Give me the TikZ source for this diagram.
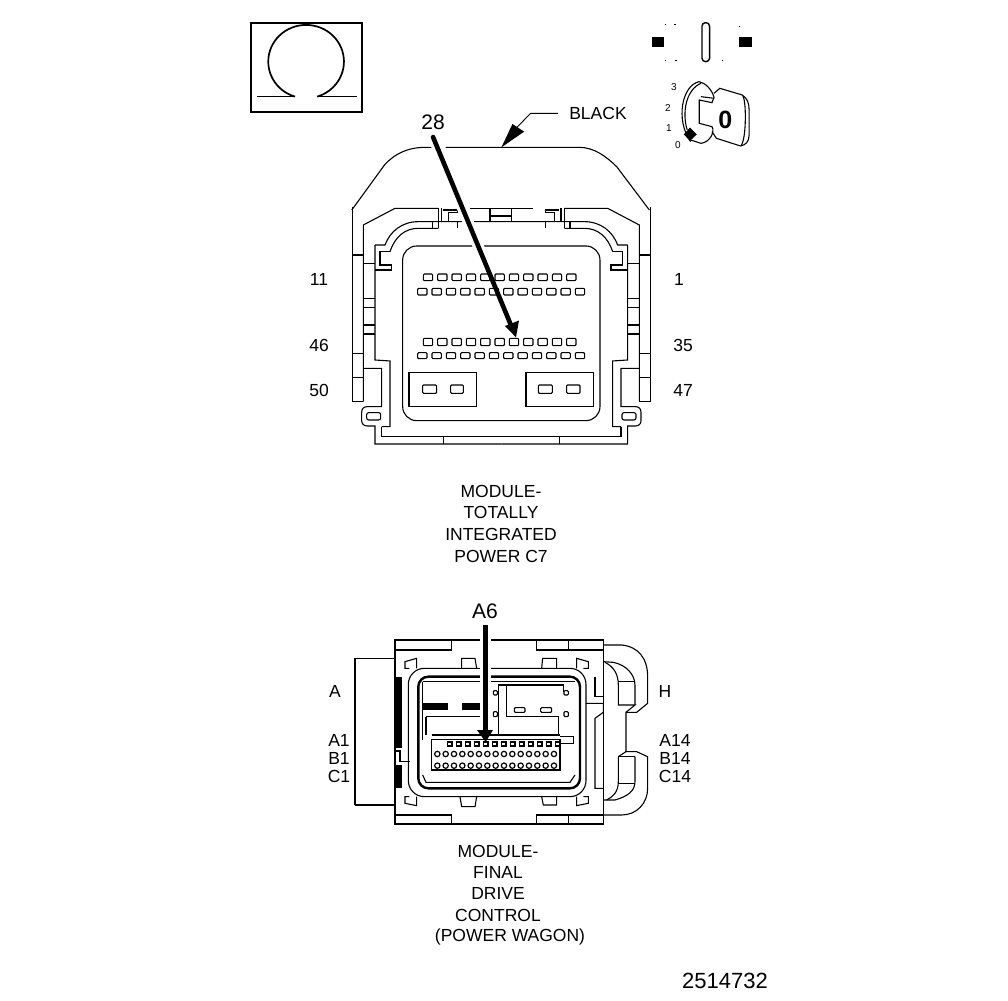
\documentclass[tikz,border=0pt]{standalone}
\usepackage{fontspec}
\setmainfont{Liberation Sans}
\tikzset{
  wire/.style={line width=1.1pt,black,line join=miter},
  lab/.style={font=\fontsize{17.5}{20}\selectfont,inner sep=0pt,black},
  biglab/.style={font=\fontsize{21}{24}\selectfont,inner sep=0pt,black},
  keylab/.style={font=\fontsize{10}{12}\selectfont,inner sep=0pt,black},
  fat/.style={line width=4.6pt,black},
  halo/.style={line width=11pt,white},
  pinbox/.style={line width=1.1pt,black,rounded corners=1pt}
}
\newcommand{\halfshell}{%
  \draw[wire] (37,52)--(37,635)--(70,635);
  \draw[wire] (484,55)--(390,55);
  \draw[wire] (295,55)--(165,55)--(70,105)--(70,635);
  \draw[wire] (37,195)--(70,195) (37,490)--(70,490) (37,562)--(70,562);
  \draw[wire] (105,165)--(105,510)--(150,513)--(150,710)--(125,710);
  \draw[wire] (105,165)--(135,165) .. controls (150,125) and (185,95) .. (235,95)--(484,95);
  \draw[wire] (150,185) .. controls (165,140) and (195,115) .. (235,115)--(295,115);
  \draw[wire] (150,185)--(120,185)--(120,225)--(155,225)--(155,240)--(105,240);
  \draw[wire] (70,220)--(105,220) (70,325)--(105,325) (70,352)--(105,352) (70,405)--(105,405) (70,432)--(105,432);
  \draw[wire] (70,535)--(125,535)--(125,650)--(82,650) .. controls (70,650) and (65,657) .. (65,668)--(65,692) .. controls (65,702) and (72,708) .. (82,708)--(105,708)--(105,762)--(484,762);
  \draw[wire] (125,710)--(125,740)--(484,740);
  \draw[wire] (310,740)--(310,762);
  \draw[wire,rounded corners=2pt] (80,668) rectangle (122,690);
  \draw[wire] (295,55)--(295,115) (278,95)--(278,115);
  \draw[wire] (305,55)--(305,95) (352,95)--(352,115);
  \draw[wire] (310,60)--(352,60)--(352,68)--(325,68)--(325,95);
}
\newcommand{\pinrow}[4]{%
  \foreach \n in {1,...,#2}{
    \pgfmathsetmacro{\xa}{#1+(\n-1)*43}
    \pgfmathsetmacro{\xb}{\xa+28}
    \draw[pinbox] (\xa,#3) rectangle (\xb,#4);
  }
}
\begin{document}
\begin{tikzpicture}[x=1pt,y=-1pt]
\useasboundingbox (0,0) rectangle (1008,1000);
\fill[white] (0,0) rectangle (1008,1000);

\begin{scope}[shift={(240,10)},x=0.344pt,y=-0.3333pt]
  \draw[line width=2pt] (32,40) rectangle (355,305);
  \draw[line width=1.7pt] (160,260) arc (107:433:110);
  \draw[line width=1.2pt] (50,260)--(160,260) (225,260)--(340,260);
  \fill (1197,80) rectangle (1233,110);
  \fill (1450,80) rectangle (1487,110);
  \draw[line width=1.4pt,rounded corners=3.5pt] (1343,38) rectangle (1365,155);
  \foreach \px/\py in {1235/42,1262/42,1235/150,1265/150,1400/150,1450/47}{
    \fill (\px,\py) rectangle ++(4,3);
  }
  \draw[wire] (1335,215) .. controls (1285,225) and (1265,330) .. (1310,395);
  \draw[wire] (1340,220) .. controls (1295,240) and (1285,310) .. (1300,360);
  \draw[wire] (1335,215) .. controls (1355,220) and (1372,240) .. (1378,262)--(1372,278)--(1335,270)--(1335,340)--(1372,350) .. controls (1382,365) and (1365,398) .. (1340,400)--(1310,390);
  \draw[wire] (1340,260)--(1378,265);
  \draw[wire] (1378,250)--(1395,235)--(1460,255) .. controls (1475,265) and (1480,280) .. (1480,300)--(1480,375) .. controls (1480,395) and (1470,405) .. (1455,408)--(1385,385)--(1372,365);
  \draw[wire] (1462,258) .. controls (1472,275) and (1472,380) .. (1458,405);
  \fill (1308,353)--(1328,373)--(1308,393)--(1290,373)--cycle;
  \node[font=\bfseries\fontsize{25}{28}\selectfont,inner sep=0pt] (keyzero) at (1411,329) {0};
  \node[keylab] (k3) at (1261,230) {3};
  \node[keylab] (k2) at (1244,294) {2};
  \node[keylab] (k1) at (1247,353) {1};
  \node[keylab] (k0) at (1273,405) {0};
  \draw[wire] (325,600) -- (420,465) .. controls (450,430) and (490,412) .. (540,412)--(558,412);
  \draw[wire] (598,412)--(985,412) .. controls (1030,412) and (1065,440) .. (1095,470)--(1190,600);
  \coordinate (blk) at (925,310);
  \coordinate (blkbend) at (845,310);
  \draw[wire,line width=0.9pt] (blk)--(blkbend)--(805,352);
  \fill (760,412)--(792,342)--(826,365)--cycle;
\end{scope}

\begin{scope}[shift={(340,190)},x=0.3333pt,y=-0.3333pt]
  \halfshell
  \begin{scope}[xscale=-1,xshift=-322.67pt]
    \halfshell
  \end{scope}
  \draw[wire] (450,55) rectangle (515,95) (450,78)--(515,78);
  \draw[wire,rounded corners=14pt] (188,692) rectangle (780,168);
  \pinrow{250}{11}{252}{272}
  \pinrow{233}{12}{295}{315}
  \pinrow{250}{11}{445}{467}
  \pinrow{233}{12}{488}{506}
  \draw[wire] (207,547) rectangle (410,650);
  \draw[wire] (558,547) rectangle (760,650);
  \draw[pinbox] (248,585) rectangle (290,610);
  \draw[pinbox] (332,585) rectangle (370,610);
  \draw[pinbox] (595,585) rectangle (637,610);
  \draw[pinbox] (680,585) rectangle (720,610);
  \coordinate (pin28) at (528,442);
\end{scope}
\coordinate (arrowstart) at (433,137);
\draw[halo,shorten >=85pt] (arrowstart)--(pin28);
\draw[fat,shorten >=9pt,line cap=round] (arrowstart)--(pin28);
\fill (pin28)--(505,326)--(519,320.5)--cycle;

\begin{scope}[shift={(350,625)},x=0.3333pt,y=-0.3333pt]
  \draw[wire] (135,45) rectangle (760,597);
  \draw[wire] (135,75)--(305,75)--(305,45) (135,570)--(305,570)--(305,597);
  \draw[wire] (560,45)--(560,75)--(760,75) (655,45)--(655,75);
  \draw[wire] (560,597)--(560,570)--(760,570) (655,570)--(655,597);
  \draw[wire] (15,100)--(135,100) (15,100)--(15,540) (15,540)--(135,540);
  \fill (135,155) rectangle (155,370);
  \fill (135,420) rectangle (155,490);
  \draw[wire] (135,378)--(150,378)--(150,410)--(180,410);
  \draw[wire,rounded corners=16pt] (175,130) rectangle (708,515);
  \draw[line width=2.4pt,rounded corners=10pt] (205,155) rectangle (690,490);
  \draw[wire] (218,170)--(675,170);
  \draw[wire] (218,170)--(218,235) (218,255)--(218,345);
  \draw[wire] (218,450)--(228,472)--(660,472)--(675,450);
  \draw[wire] (335,130)--(335,100)--(375,100)--(380,130) (575,130)--(578,100)--(620,100)--(620,130);
  \draw[wire] (330,515)--(335,545)--(375,545)--(380,515) (575,515)--(580,540)--(620,540)--(620,515);
  \draw[wire] (200,130)--(200,100)--(165,110)--(165,130)--(178,130);
  \draw[wire] (680,130)--(680,100)--(715,110)--(715,130)--(700,130);
  \draw[wire] (200,515)--(200,542)--(165,535)--(165,515)--(178,515);
  \draw[wire] (680,515)--(680,542)--(715,535)--(715,515)--(700,515);
  \draw[wire] (735,155)--(735,215)--(760,215);
  \draw[wire] (708,235)--(760,235)--(760,262)--(735,280)--(735,490)--(760,490);
  \draw[wire] (760,60)--(815,60) .. controls (865,65) and (893,100) .. (893,155)--(893,235)--(860,262)--(828,262)--(828,380)--(860,380)--(893,395)--(893,490) .. controls (893,535) and (860,570) .. (815,570)--(760,570);
  \draw[wire] (760,110)--(790,112) .. controls (830,120) and (855,150) .. (855,180)--(855,240);
  \draw[wire] (765,112) .. controls (790,125) and (805,145) .. (805,180)--(805,240)--(855,240)--(828,262);
  \draw[wire] (760,525)--(795,525) .. controls (830,515) and (855,500) .. (855,470)--(855,395);
  \draw[wire] (770,525) .. controls (790,515) and (805,500) .. (805,470)--(805,395)--(828,380);
  \draw[wire] (805,395)--(855,395) (805,170)--(855,170) (805,475)--(855,475);
  \fill (215,235) rectangle (295,255);
  \fill (335,235) rectangle (400,255);
  \draw[wire] (445,180)--(640,180)--(640,200);
  \draw[wire] (445,180)--(445,330);
  \draw[wire] (470,180)--(470,275)--(625,275)--(625,330);
  \draw[wire] (228,275)--(400,275) (228,275)--(228,330);
  \draw[pinbox] (430,197) rectangle (442,210);
  \draw[pinbox] (430,260) rectangle (442,275);
  \draw[pinbox] (642,197) rectangle (655,210);
  \draw[pinbox] (642,260) rectangle (655,275);
  \draw[pinbox] (493,248) rectangle (525,262);
  \draw[pinbox] (572,248) rectangle (605,262);
  \draw[wire] (245,330)--(630,330) (245,343)--(630,343);
  \draw[wire] (245,343)--(245,435)--(630,435)--(630,343);
  \draw[wire] (630,335)--(670,335)--(670,355)--(630,355);
  \foreach \n in {0,...,12}{
    \pgfmathsetmacro{\xa}{293+\n*27}
    \draw[line width=1.1pt] (\xa,351) rectangle ++(13,12);
  }
  \foreach \n in {0,...,14}{
    \pgfmathsetmacro{\xa}{262+\n*25}
    \draw[line width=1.2pt] (\xa,387) circle (8);
    \draw[line width=1.2pt] (\xa,422) circle (8);
  }
  \coordinate (pinA6) at (407,351);
  \coordinate (startA6) at (407,0);
\end{scope}
\draw[halo,shorten >=14pt] (startA6)--(pinA6);
\draw[fat,shorten >=8pt] (startA6)--(pinA6);
\fill (pinA6)--(477,730)--(493,730)--cycle;

\node[lab] (black) at (598,113) {BLACK};
\node[biglab] (n28) at (433,122) {28};
\node[lab] (n11) at (319,279) {11};
\node[lab] (n46) at (319,345) {46};
\node[lab] (n50) at (319,390) {50};
\node[lab] (n1) at (679,279) {1};
\node[lab] (n35) at (683,345) {35};
\node[lab] (n47) at (683,390) {47};
\node[lab] (c1a) at (501,491) {MODULE-};
\node[lab] (c1b) at (501,512) {TOTALLY};
\node[lab] (c1c) at (501,534) {INTEGRATED};
\node[lab] (c1d) at (501,556) {POWER C7};
\node[biglab] (a6) at (485,611) {A6};
\node[lab] (la) at (335,691) {A};
\node[lab] (la1) at (339,740) {A1};
\node[lab] (lb1) at (339,758) {B1};
\node[lab] (lc1) at (339,776) {C1};
\node[lab] (lh) at (665,691) {H};
\node[lab] (la14) at (675,740) {A14};
\node[lab] (lb14) at (675,758) {B14};
\node[lab] (lc14) at (675,776) {C14};
\node[lab] (c2a) at (498,851) {MODULE-};
\node[lab] (c2b) at (498,872) {FINAL};
\node[lab] (c2c) at (498,893) {DRIVE};
\node[lab] (c2d) at (498,915) {CONTROL};
\node[lab] (c2e) at (510,937) {(POWER WAGON)};
\node[font=\fontsize{22}{24}\selectfont,inner sep=0pt] (num) at (725,981) {2514732};
\end{tikzpicture}
\end{document}
